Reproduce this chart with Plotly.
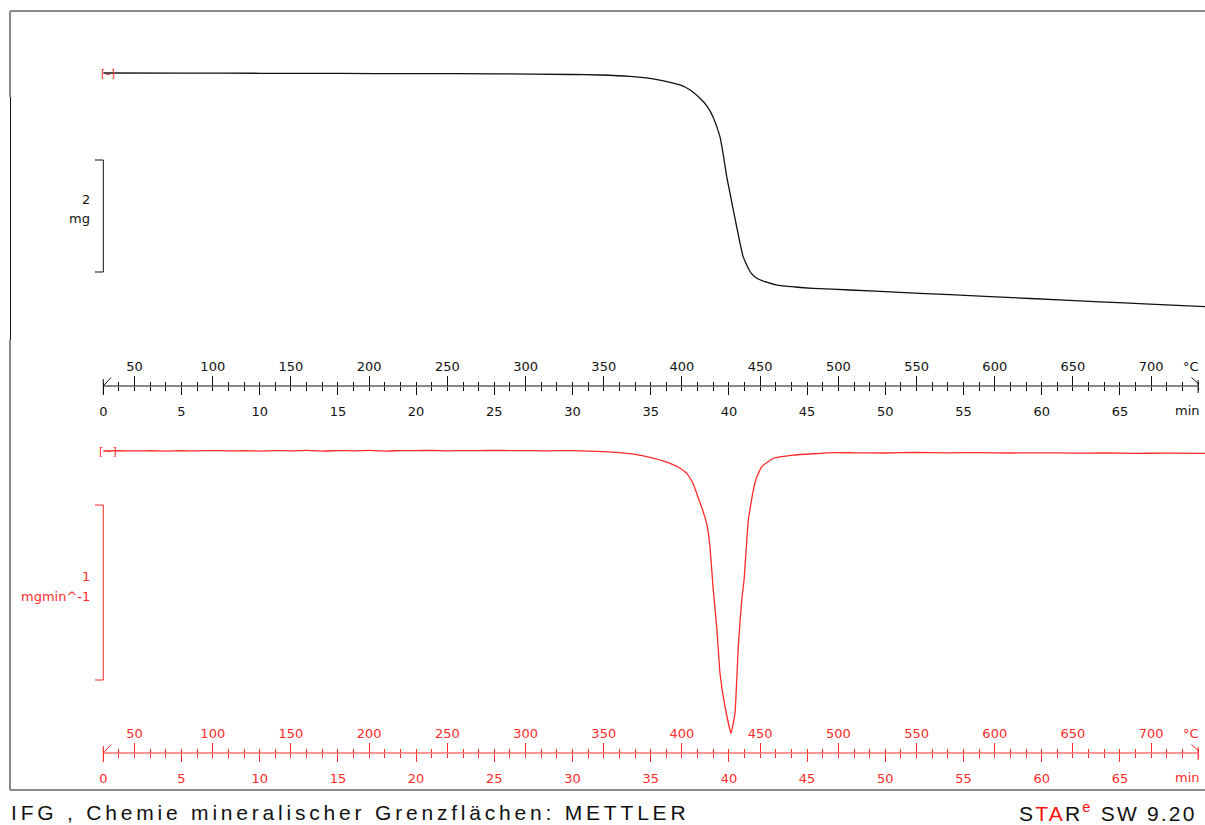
import plotly.graph_objects as go

# ---------------- data ----------------
# TGA (mass, mg) vs time (min)
tga_time = [0, 5, 10, 15, 20, 25, 30, 31.75, 33.66, 34.96, 35.9, 36.88, 37.5, 38.15, 38.6,
            38.98, 39.43, 39.64, 39.86, 40.07, 40.28, 40.5, 40.71, 40.9, 41.14, 41.41, 41.78,
            42.37, 43.06, 44.23, 45.38, 47.74, 50.94, 54.13, 59.25, 63.7, 66.9, 70.44]
tga_mass = [10.000, 9.998, 9.995, 9.992, 9.989, 9.985, 9.973, 9.964, 9.940, 9.905, 9.857,
            9.786, 9.700, 9.548, 9.410, 9.220, 8.860, 8.540, 8.150, 7.857, 7.554, 7.250,
            6.964, 6.730, 6.571, 6.430, 6.334, 6.268, 6.214, 6.179, 6.155, 6.125, 6.082,
            6.041, 5.973, 5.914, 5.873, 5.827]

# DTG (mg/min) vs time (min)
dtg_time = [0, 1, 2, 3, 4, 5, 6, 7, 8, 9, 10, 11, 12, 13, 14, 15, 16, 17, 18, 19, 20,
            21, 22, 23, 24, 25, 26, 27, 28, 29, 30, 31, 32, 33, 34, 35.15, 36.24, 36.8,
            37.3, 37.65, 37.94, 38.58, 38.79, 39.0, 39.22, 39.43, 39.75, 40.13, 40.39, 40.6,
            40.82, 40.97, 41.24, 41.56, 41.8, 42.1, 42.84, 44.12, 46.68, 48, 50, 52, 54, 56,
            58, 60, 62, 64, 66, 68, 70.44]
dtg_rate = [-0.006, -0.004, -0.005, -0.004, -0.006, -0.004, -0.005, -0.003, -0.005, -0.004,
            -0.006, -0.003, -0.005, -0.002, -0.006, -0.003, -0.005, -0.002, -0.006, -0.003,
            -0.004, -0.002, -0.005, -0.003, -0.004, -0.002, -0.004, -0.003, -0.005, -0.004,
            -0.004, -0.006, -0.009, -0.015, -0.025, -0.047, -0.076, -0.100, -0.133, -0.180,
            -0.247, -0.419, -0.553, -0.800, -1.010, -1.276, -1.467, -1.619, -1.505, -1.124,
            -0.857, -0.743, -0.400, -0.229, -0.150, -0.095, -0.047, -0.029, -0.015, -0.016,
            -0.017, -0.014, -0.016, -0.015, -0.017, -0.016, -0.018, -0.017, -0.019, -0.018,
            -0.019]

# axis ticks / labels
min_ticks = [0, 5, 10, 15, 20, 25, 30, 35, 40, 45, 50, 55, 60, 65]
min_labels = [str(v) for v in min_ticks]
temp_ticks = [50, 100, 150, 200, 250, 300, 350, 400, 450, 500, 550, 600, 650, 700]
temp_labels = [str(v) for v in temp_ticks]
T_START = 30.0     # degC at t = 0
RATE = 10.0        # K/min
T_END_MIN = 70

# ---------------- layout helpers ----------------
W, H = 1205, 825
def px(x):
    return x / W
def py(y):
    return 1 - y / H

# x mapping: t=0 at 103.3 px, 15.64 px/min
X0_PX, PX_PER_MIN = 103.3, 15.64
XMIN = (0 - X0_PX) / PX_PER_MIN
XMAX = (W - X0_PX) / PX_PER_MIN
def tx(xpx):
    return (xpx - X0_PX) / PX_PER_MIN

TOP_AX = 386.0
BOT_AX = 753.0
# top y axis (mg): 10 mg at 73 px, 56 px/mg
top_dom = [py(TOP_AX), 1.0]
top_rng = [10 - (TOP_AX - 73) / 56.0, 10 + 73 / 56.0]
# bottom y axis (mg/min): 0 at 450 px, 175 px per mg/min
bot_dom = [py(BOT_AX), py(420)]
bot_rng = [(450 - BOT_AX) / 175.0, (450 - 420) / 175.0]

BLACK = "#111111"
RED = "#ff2a2a"
FONT = "DejaVu Sans"
FS = 13

fig = go.Figure()
fig.add_trace(go.Scatter(x=tga_time, y=tga_mass, mode="lines", xaxis="x", yaxis="y",
                         line=dict(color=BLACK, width=1.3, shape="spline", smoothing=0.6),
                         hoverinfo="skip"))
fig.add_trace(go.Scatter(x=dtg_time, y=dtg_rate, mode="lines", xaxis="x2", yaxis="y2",
                         line=dict(color=RED, width=1.3, shape="spline", smoothing=0.3),
                         hoverinfo="skip"))
# empty helper traces so the temperature axes get their own subplots
fig.add_trace(go.Scatter(x=[], y=[], xaxis="x3", yaxis="y", hoverinfo="skip"))
fig.add_trace(go.Scatter(x=[], y=[], xaxis="x4", yaxis="y2", hoverinfo="skip"))

def min_axis(color, anchor):
    return dict(domain=[0, 1], range=[XMIN, XMAX], anchor=anchor, side="bottom",
                showline=False, showgrid=False, zeroline=False,
                tickmode="array", tickvals=min_ticks, ticktext=min_labels,
                ticks="outside", ticklen=8, tickwidth=1, tickcolor=color,
                ticklabelstandoff=5,
                minor=dict(tickmode="array", tickvals=list(range(0, T_END_MIN + 1)), ticks="outside",
                           ticklen=4, tickwidth=1, tickcolor=color),
                tickfont=dict(family=FONT, size=FS, color=color), fixedrange=True)

def temp_axis(color, over, pos):
    return dict(range=[T_START + RATE * XMIN, T_START + RATE * XMAX], overlaying=over,
                anchor="free", position=pos, side="top",
                showline=False, showgrid=False, zeroline=False,
                tickmode="array", tickvals=temp_ticks, ticktext=temp_labels,
                ticks="outside", ticklen=10, tickwidth=1, tickcolor=color,
                minor=dict(tickmode="array",
                           tickvals=[T_START + RATE * k for k in range(0, T_END_MIN + 1)],
                           ticks="outside", ticklen=4, tickwidth=1, tickcolor=color),
                tickfont=dict(family=FONT, size=FS, color=color), fixedrange=True)

fig.update_layout(
    width=W, height=H, margin=dict(l=0, r=0, t=0, b=0),
    paper_bgcolor="white", plot_bgcolor="white", showlegend=False,
    xaxis=min_axis(BLACK, "y"),
    xaxis2=min_axis(RED, "y2"),
    xaxis3=temp_axis(BLACK, "x", py(TOP_AX)),
    xaxis4=temp_axis(RED, "x2", py(BOT_AX)),
    yaxis=dict(domain=top_dom, range=top_rng, visible=False, fixedrange=True),
    yaxis2=dict(domain=bot_dom, range=bot_rng, visible=False, fixedrange=True),
)

shapes = []
annots = []
def note(x, y, text, color, xref="x", yref="paper", xanchor="center", size=FS):
    annots.append(dict(x=x, y=y, xref=xref, yref=yref, text=text, showarrow=False,
                       xanchor=xanchor, yanchor="middle",
                       font=dict(family=FONT, size=size, color=color)))

# axis lines and end marks
for yax, col in ((TOP_AX, BLACK), (BOT_AX, RED)):
    shapes.append(dict(type="line", xref="x", yref="paper", x0=0, x1=T_END_MIN,
                       y0=py(yax), y1=py(yax), line=dict(color=col, width=1)))
    shapes.append(dict(type="line", xref="x", yref="paper", x0=0, x1=0,
                       y0=py(yax - 7), y1=py(yax + 8), line=dict(color=col, width=1)))
    shapes.append(dict(type="line", xref="x", yref="paper", x0=0, x1=tx(111),
                       y0=py(yax), y1=py(yax - 8.5), line=dict(color=col, width=1)))
    shapes.append(dict(type="line", xref="x", yref="paper", x0=T_END_MIN, x1=T_END_MIN,
                       y0=py(yax - 6), y1=py(yax + 7), line=dict(color=col, width=1)))
    shapes.append(dict(type="line", xref="x", yref="paper", x0=T_END_MIN, x1=tx(1191.5),
                       y0=py(yax - 2.5), y1=py(yax - 8.5), line=dict(color=col, width=1)))

# unit labels at the axis ends
note(tx(1190.5), py(366), "°C", BLACK)
note(tx(1187), py(410), "min", BLACK)
note(tx(1190.5), py(733), "°C", RED)
note(tx(1187), py(777), "min", RED)

# scale brackets
bx = tx(95)
m_hi = top_rng[1] - 160 / 56.0
shapes.append(dict(type="path", xref="x", yref="y",
                   path=f"M {bx},{m_hi} L 0,{m_hi} L 0,{m_hi-2} L {bx},{m_hi-2}",
                   line=dict(color=BLACK, width=1)))
note(tx(92), py(199), "2", BLACK, xanchor="right")
note(tx(92), py(219), "mg", BLACK, xanchor="right")
b_top = (450 - 505) / 175.0
shapes.append(dict(type="path", xref="x2", yref="y2",
                   path=f"M {bx},{b_top} L 0,{b_top} L 0,{b_top-1} L {bx},{b_top-1}",
                   line=dict(color=RED, width=1)))
note(tx(92), py(576), "1", RED, xanchor="right")
note(tx(92), py(596), "mgmin^-1", RED, xanchor="right")

# start markers
annots.append(dict(x=0.3, y=tga_mass[0], xref="x", yref="y", text="[–]", showarrow=False,
                   yanchor="middle", font=dict(family=FONT, size=11, color=RED)))
annots.append(dict(x=0.3, y=dtg_rate[0], xref="x2", yref="y2", text="[~]", showarrow=False,
                   yanchor="middle", font=dict(family=FONT, size=11, color=RED)))

# frame
GRAY = "#8a8a8a"
shapes += [
    dict(type="line", xref="paper", yref="paper", x0=px(10), x1=1, y0=py(11), y1=py(11), line=dict(color=GRAY, width=2)),
    dict(type="line", xref="paper", yref="paper", x0=px(10), x1=1, y0=py(790), y1=py(790), line=dict(color=GRAY, width=2)),
    dict(type="line", xref="paper", yref="paper", x0=px(10), x1=px(10), y0=py(11), y1=py(97), line=dict(color=GRAY, width=2)),
    dict(type="line", xref="paper", yref="paper", x0=px(10.5), x1=px(10.5), y0=py(97), y1=py(340), line=dict(color=BLACK, width=1)),
    dict(type="line", xref="paper", yref="paper", x0=px(10), x1=px(10), y0=py(340), y1=py(790), line=dict(color=GRAY, width=2)),
]

# footer
annots.append(dict(x=px(9), y=py(812), xref="paper", yref="paper", xanchor="left", yanchor="middle",
                   text='<span style="letter-spacing:3.8px">IFG , Chemie mineralischer Grenzflächen: METTLER</span>',
                   showarrow=False, font=dict(family="Liberation Sans", size=21, color="#111")))
annots.append(dict(x=px(1017), y=py(812), xref="paper", yref="paper", xanchor="left", yanchor="middle",
                   text='<span style="letter-spacing:2.2px">S<span style="color:#ff1010">TA</span>R<sup><span style="color:#ff1010">e</span></sup> SW 9.20</span>',
                   showarrow=False, font=dict(family="Liberation Sans", size=21, color="#111")))

fig.update_layout(shapes=shapes, annotations=annots)
fig.write_html("out.html")
